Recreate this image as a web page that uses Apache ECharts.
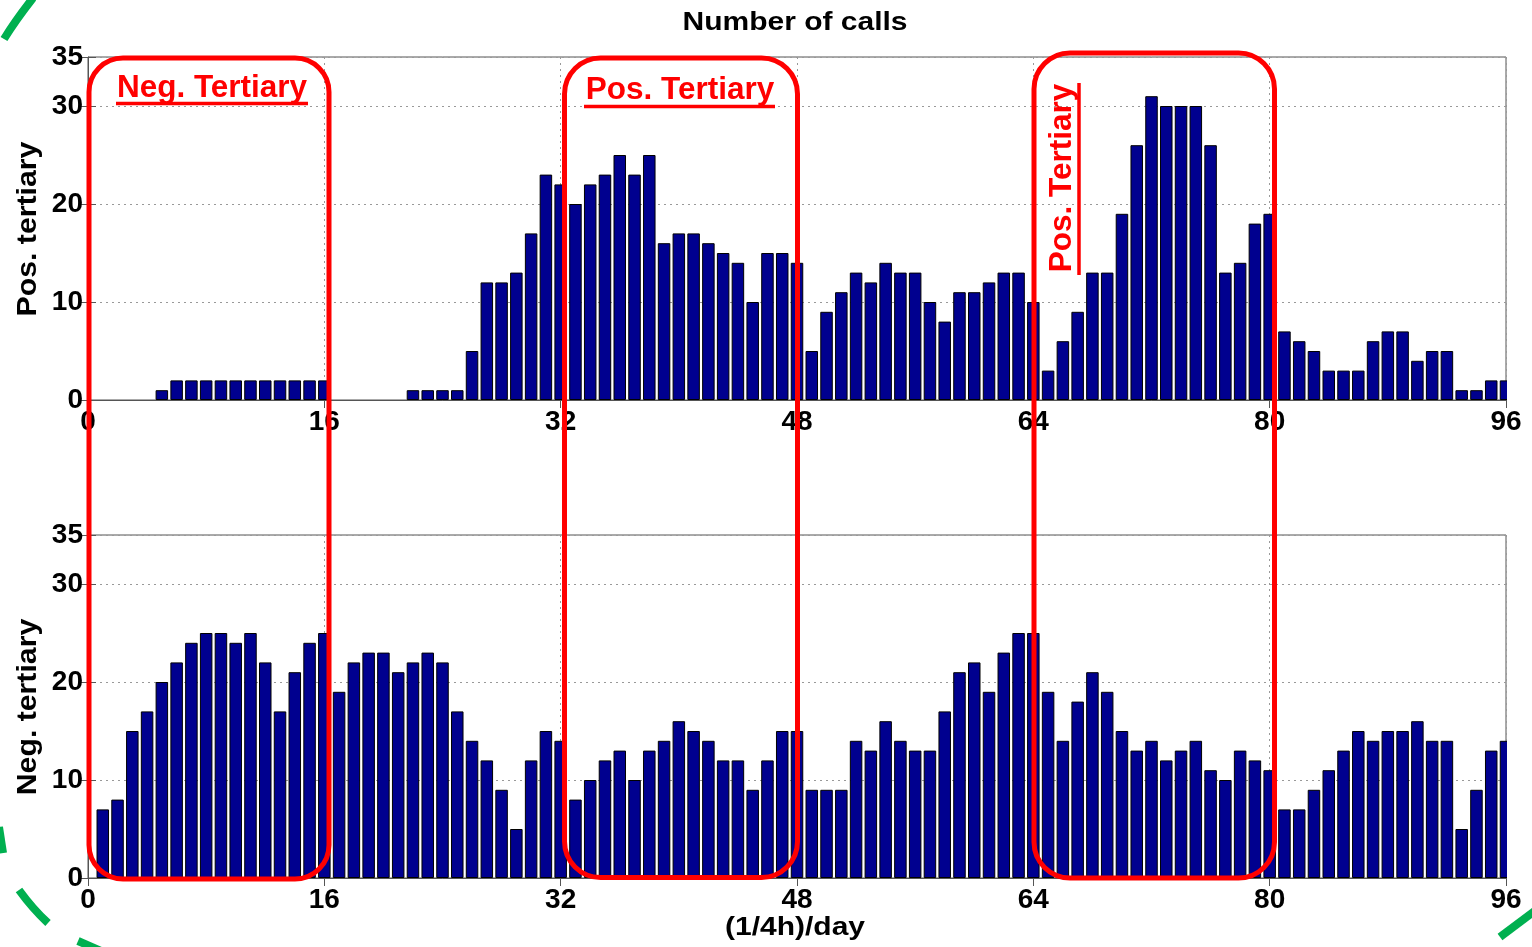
<!DOCTYPE html>
<html>
<head>
<meta charset="utf-8">
<script src="https://cdn.jsdelivr.net/npm/echarts@6/dist/echarts.min.js"></script>
<style>
    html, body { margin: 0; padding: 0; background: #fff; }
    #chart { width: 1532px; height: 947px; }
</style>
</head>
<body>
<div id="chart"></div>
<script>
// quarter-hour slots 1..96 of a day
var posTertiary = [
    0, 0, 0, 0, 1, 2, 2, 2, 2, 2, 2, 2, 2, 2, 2, 2,
    0, 0, 0, 0, 0, 1, 1, 1, 1, 5, 12, 12, 13, 17, 23, 22,
    20, 22, 23, 25, 23, 25, 16, 17, 17, 16, 15, 14, 10, 15, 15, 14,
    5, 9, 11, 13, 12, 14, 13, 13, 10, 8, 11, 11, 12, 13, 13, 10,
    3, 6, 9, 13, 13, 19, 26, 31, 30, 30, 30, 26, 13, 14, 18, 19,
    7, 6, 5, 3, 3, 3, 6, 7, 7, 4, 5, 5, 1, 1, 2, 2
]
var negTertiary = [
    7, 8, 15, 17, 20, 22, 24, 25, 25, 24, 25, 22, 17, 21, 24, 25,
    19, 22, 23, 23, 21, 22, 23, 22, 17, 14, 12, 9, 5, 12, 15, 14,
    8, 10, 12, 13, 10, 13, 14, 16, 15, 14, 12, 12, 9, 12, 15, 15,
    9, 9, 9, 14, 13, 16, 14, 13, 13, 17, 21, 22, 19, 23, 25, 25,
    19, 14, 18, 21, 19, 15, 13, 14, 12, 13, 14, 11, 10, 13, 12, 11,
    7, 7, 9, 11, 13, 15, 14, 15, 15, 16, 14, 14, 5, 9, 13, 14
]
var xMin = 0, xMax = 96, xStep = 16
var yMin = 0, yMax = 35, yStep = 10

var font = 'Liberation Sans, Arial, Helvetica, sans-serif'
var barColor = '#00008F'
var red = '#FF0000'
var green = '#00B050'

function toPairs(vals) {
    return vals.map(function(v, i) {
        // empty slots draw nothing (no border sliver)
        return { value: [i + 1, v], itemStyle: v === 0 ? { borderWidth: 0, opacity: 0 } : undefined }
    })
}

var chart = echarts.init(document.getElementById('chart'))

var grids = [
    { left: 88, top: 57, width: 1418, height: 343 },
    { left: 88, top: 535, width: 1418, height: 343 }
]

var xAxes = []
var yAxes = []
grids.forEach(function(g, idx) {
    g.show = true
    g.borderColor = '#555'
    g.borderWidth = 1
    g.backgroundColor = '#fff'
    xAxes.push({
        type: 'value', gridIndex: idx, min: xMin, max: xMax, interval: xStep,
        position: 'bottom',
        axisLine: { show: true, lineStyle: { color: '#555', width: 1 } },
        axisTick: { show: true, inside: true, length: 8, lineStyle: { color: '#555' } },
        axisLabel: { show: true, margin: 8, color: '#000', fontSize: 28, fontWeight: 'bold', fontFamily: font },
        splitLine: { show: true, lineStyle: { color: '#999', type: [2, 4], width: 1 } }
    })
    xAxes.push({
        type: 'value', gridIndex: idx, min: xMin, max: xMax, interval: xStep,
        position: 'top',
        axisLine: { show: false },
        axisTick: { show: true, inside: true, length: 8, lineStyle: { color: '#555' } },
        axisLabel: { show: false },
        splitLine: { show: false }
    })
    yAxes.push({
        type: 'value', gridIndex: idx, min: yMin, max: yMax, interval: yStep,
        position: 'left',
        axisLine: { show: true, lineStyle: { color: '#555', width: 1 } },
        axisTick: { show: true, inside: true, length: 8, lineStyle: { color: '#555' } },
        axisLabel: { show: true, margin: 5, color: '#000', fontSize: 28, fontWeight: 'bold', fontFamily: font },
        splitLine: { show: true, lineStyle: { color: '#999', type: [2, 4], width: 1 } }
    })
    yAxes.push({
        type: 'value', gridIndex: idx, min: yMin, max: yMax, interval: yStep,
        position: 'right',
        axisLine: { show: false },
        axisTick: { show: true, inside: true, length: 8, lineStyle: { color: '#555' } },
        axisLabel: { show: false },
        splitLine: { show: false }
    })
})

var boxStyle = { fill: 'none', stroke: red, lineWidth: 5 }
var dashStyle = { stroke: green, lineWidth: 8, lineCap: 'butt' }

var option = {
    animation: false,
    backgroundColor: '#fff',
    grid: grids,
    xAxis: xAxes,
    yAxis: yAxes,
    series: [
        {
            name: 'Pos. tertiary', type: 'bar', xAxisIndex: 0, yAxisIndex: 0,
            data: toPairs(posTertiary), barWidth: 12.5,
            itemStyle: { color: barColor, borderColor: '#000', borderWidth: 1 }
        },
        {
            name: 'Neg. tertiary', type: 'bar', xAxisIndex: 2, yAxisIndex: 2,
            data: toPairs(negTertiary), barWidth: 12.5,
            itemStyle: { color: barColor, borderColor: '#000', borderWidth: 1 }
        }
    ],
    graphic: [
        // hide the half of the last bar that sticks out past x = 96
        { type: 'rect', z: 5, silent: true, shape: { x: 1507, y: 50, width: 14, height: 352 }, style: { fill: '#fff' } },
        { type: 'rect', z: 5, silent: true, shape: { x: 1507, y: 528, width: 14, height: 352 }, style: { fill: '#fff' } },

        { type: 'text', x: 795, y: 23, scaleX: 1.2, z: 10,
          style: { text: 'Number of calls', font: 'bold 25px ' + font, fill: '#000', align: 'center', verticalAlign: 'middle' } },
        { type: 'text', x: 795, y: 928, scaleX: 1.2, z: 10,
          style: { text: '(1/4h)/day', font: 'bold 25px ' + font, fill: '#000', align: 'center', verticalAlign: 'middle' } },
        { type: 'text', x: 28, y: 229, rotation: Math.PI / 2, scaleX: 1.08, z: 10,
          style: { text: 'Pos. tertiary', font: 'bold 28px ' + font, fill: '#000', align: 'center', verticalAlign: 'middle' } },
        { type: 'text', x: 28, y: 707, rotation: Math.PI / 2, scaleX: 1.08, z: 10,
          style: { text: 'Neg. tertiary', font: 'bold 28px ' + font, fill: '#000', align: 'center', verticalAlign: 'middle' } },

        // red annotation boxes
        { type: 'rect', z: 20, shape: { x: 89, y: 58, width: 240, height: 821, r: 34 }, style: boxStyle },
        { type: 'rect', z: 20, shape: { x: 564.5, y: 58, width: 233, height: 819.5, r: 36 }, style: boxStyle },
        { type: 'rect', z: 20, shape: { x: 1034, y: 53, width: 240.5, height: 825, r: 36 }, style: boxStyle },

        { type: 'text', x: 212, y: 88, z: 21,
          style: { text: 'Neg. Tertiary', font: 'bold 31.5px ' + font, fill: red, align: 'center', verticalAlign: 'middle' } },
        { type: 'line', z: 21, shape: { x1: 116, y1: 103.5, x2: 308, y2: 103.5 }, style: { stroke: red, lineWidth: 3.5 } },
        { type: 'text', x: 680, y: 90, z: 21,
          style: { text: 'Pos. Tertiary', font: 'bold 31.5px ' + font, fill: red, align: 'center', verticalAlign: 'middle' } },
        { type: 'line', z: 21, shape: { x1: 584, y1: 106.5, x2: 775, y2: 106.5 }, style: { stroke: red, lineWidth: 3.5 } },
        { type: 'text', x: 1062, y: 178, rotation: Math.PI / 2, z: 21,
          style: { text: 'Pos. Tertiary', font: 'bold 31.5px ' + font, fill: red, align: 'center', verticalAlign: 'middle' } },
        { type: 'line', z: 21, shape: { x1: 1079, y1: 83, x2: 1079, y2: 275 }, style: { stroke: red, lineWidth: 3.5 } },

        // pieces of the dashed green outline that reach into the frame
        { type: 'bezierCurve', z: 30, silent: true, shape: { x1: 33, y1: -2, cpx1: 22, cpy1: 12, cpx2: 12, cpy2: 26, x2: 4, y2: 39 }, style: dashStyle },
        { type: 'line', z: 30, silent: true, shape: { x1: -1, y1: 827, x2: 3, y2: 853 }, style: dashStyle },
        { type: 'bezierCurve', z: 30, silent: true, shape: { x1: 19, y1: 890, cpx1: 27, cpy1: 901, cpx2: 36, cpy2: 912, x2: 48, y2: 923 }, style: dashStyle },
        { type: 'line', z: 30, silent: true, shape: { x1: 78, y1: 941, x2: 101, y2: 951 }, style: dashStyle },
        { type: 'line', z: 30, silent: true, shape: { x1: 1500, y1: 937, x2: 1536, y2: 910 }, style: dashStyle }
    ]
}

chart.setOption(option)
</script>
</body>
</html>
